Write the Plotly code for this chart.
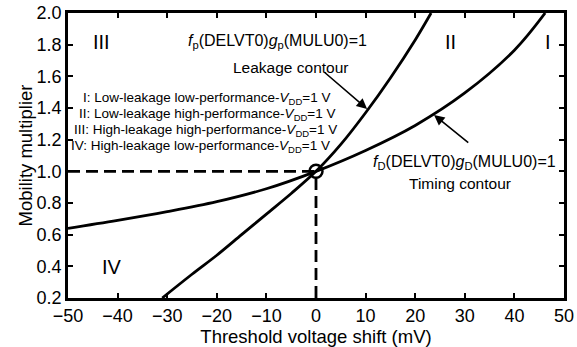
import plotly.graph_objects as go

# Timing contour f_D(DELVT0) g_D(MULU0) = 1
timing_x = [-50, -40, -30, -20, -10, 0, 10, 20, 30, 40, 46.2]
timing_y = [0.64, 0.69, 0.745, 0.808, 0.89, 1.0, 1.132, 1.29, 1.495, 1.765, 2.0]

# Leakage contour f_p(DELVT0) g_p(MULU0) = 1
leak_x = [-31, -25, -20, -15, -10, -5, 0, 5, 10, 15, 20, 23.2]
leak_y = [0.20, 0.35, 0.47, 0.60, 0.73, 0.86, 1.00, 1.17, 1.37, 1.59, 1.83, 2.0]

x_ticks = [-50, -40, -30, -20, -10, 0, 10, 20, 30, 40, 50]
y_ticks = [0.2, 0.4, 0.6, 0.8, 1.0, 1.2, 1.4, 1.6, 1.8, 2.0]

legend_lines = [
    "I: Low-leakage low-performance-<i>V</i><sub>DD</sub>=1 V",
    "II: Low-leakage high-performance-<i>V</i><sub>DD</sub>=1 V",
    "III: High-leakage high-performance-<i>V</i><sub>DD</sub>=1 V",
    "IV: High-leakage low-performance-<i>V</i><sub>DD</sub>=1 V",
]
legend_x = [-22.1, -22.0, -22.3, -23.3]
legend_y = [1.457, 1.356, 1.261, 1.160]

FONT = "Liberation Sans, Arial, sans-serif"

fig = go.Figure()
# dashed guides
fig.add_trace(go.Scatter(x=[-50, 0], y=[1.0, 1.0], mode="lines",
                         line=dict(color="black", width=2.8, dash="12px,6px"), hoverinfo="skip"))
fig.add_trace(go.Scatter(x=[0, 0], y=[0.2, 1.0], mode="lines",
                         line=dict(color="black", width=2.8, dash="12px,6px"), hoverinfo="skip"))
fig.add_trace(go.Scatter(x=timing_x, y=timing_y, mode="lines", line_shape="spline",
                         line=dict(color="black", width=2.8)))
fig.add_trace(go.Scatter(x=leak_x, y=leak_y, mode="lines", line_shape="spline",
                         line=dict(color="black", width=2.8)))
fig.add_trace(go.Scatter(x=[0], y=[1.0], mode="markers",
                         marker=dict(symbol="circle-open", size=13, color="black", line=dict(width=2.5))))

ann = []
def txt(x, y, s, size=13):
    ann.append(dict(x=x, y=y, xref="x", yref="y", text=s, showarrow=False,
                    font=dict(size=size, color="black", family=FONT)))

txt(-43.3, 1.817, "III", 20)
txt(27.2, 1.817, "II", 20)
txt(46.8, 1.817, "I", 20)
txt(-41.1, 0.396, "IV", 20)
txt(-7.7, 1.817, "<i>f</i><sub>p</sub>(DELVT0)<i>g</i><sub>p</sub>(MULU0)=1", 16)
txt(-5.2, 1.653, "Leakage contour", 15.5)
for s, xx, yy in zip(legend_lines, legend_x, legend_y):
    txt(xx, yy, s, 13.5)
txt(30.0, 1.053, "<i>f</i><sub>D</sub>(DELVT0)<i>g</i><sub>D</sub>(MULU0)=1", 16)
txt(29.0, 0.926, "Timing contour", 15.5)

# arrows
ann.append(dict(x=10.3, y=1.394, ax=1.4, ay=1.634, xref="x", yref="y", axref="x", ayref="y",
                text="", showarrow=True, arrowhead=2, arrowsize=1.3, arrowwidth=1.6, arrowcolor="black"))
ann.append(dict(x=23.8, y=1.356, ax=31.0, ay=1.173, xref="x", yref="y", axref="x", ayref="y",
                text="", showarrow=True, arrowhead=2, arrowsize=1.3, arrowwidth=1.6, arrowcolor="black"))

axis_common = dict(showline=True, linecolor="black", linewidth=2.5, mirror="ticks",
                   ticks="inside", ticklen=5, tickwidth=1.8, tickcolor="black",
                   showgrid=False, zeroline=False, automargin=False,
                   tickfont=dict(size=18, color="black", family=FONT))

fig.update_layout(
    width=577, height=347,
    margin=dict(l=68, r=13, t=13, b=49),
    paper_bgcolor="white", plot_bgcolor="white",
    showlegend=False,
    annotations=ann,
    xaxis=dict(range=[-50, 50], tickvals=x_ticks,
               title=dict(text="Threshold voltage shift (mV)", font=dict(size=18.5, color="black", family=FONT), standoff=0),
               **axis_common),
    yaxis=dict(range=[0.2, 2.0], tickvals=y_ticks, tickformat=".1f",
               title=dict(text="Mobility multiplier", font=dict(size=18.5, color="black", family=FONT), standoff=0),
               **axis_common),
)

fig.write_html("out.html")
